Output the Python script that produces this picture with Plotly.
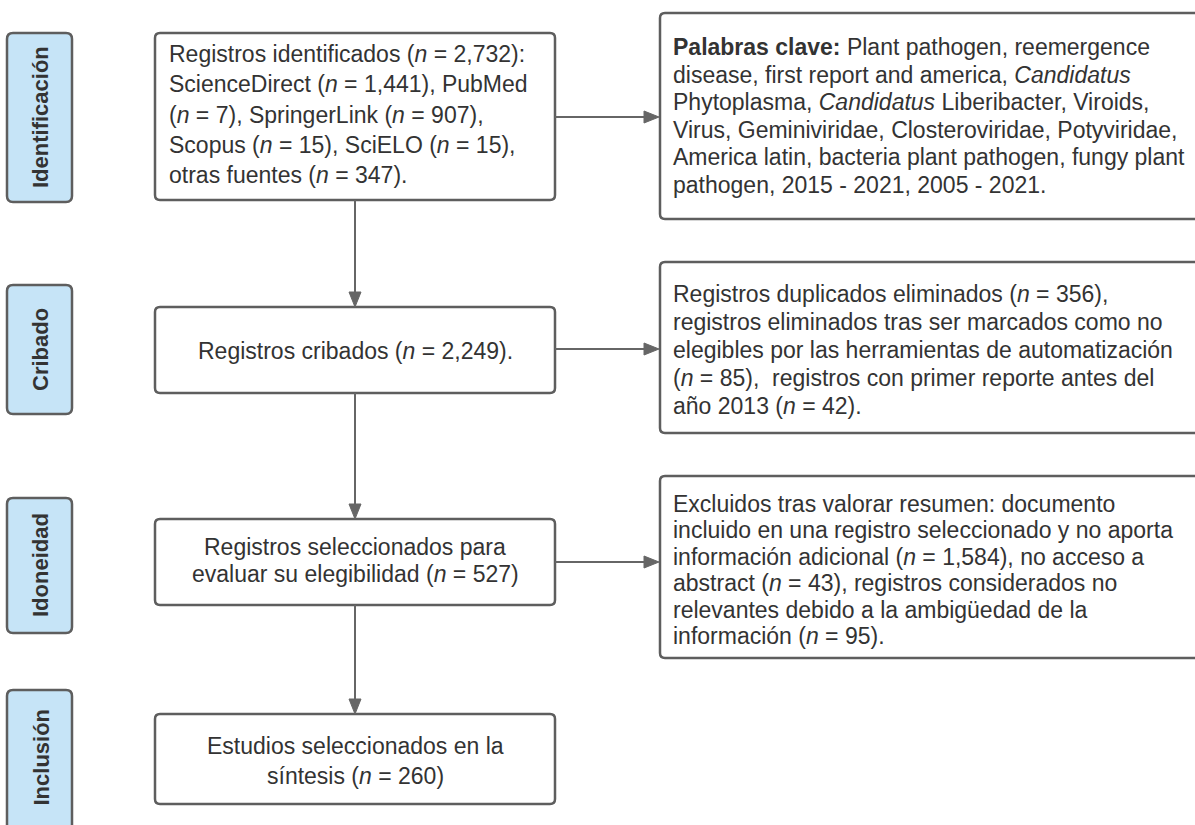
import plotly.graph_objects as go

# ---- data (texts and counts) ----
stage_labels = ["Identificación", "Cribado", "Idoneidad", "Inclusión"]
n_identified = "2,732"
source_names = ["ScienceDirect", "PubMed", "SpringerLink", "Scopus", "SciELO", "otras fuentes"]
source_counts = ["1,441", "7", "907", "15", "15", "347"]
n_screened = "2,249"
n_eligible = "527"
n_included = "260"
excl_screen_counts = ["356", "85", "42"]
excl_elig_counts = ["1,584", "43", "95"]
keywords_lines = ["Plant pathogen, reemergence",
                  "disease, first report and america, <i>Candidatus</i>",
                  "Phytoplasma, <i>Candidatus</i> Liberibacter, Viroids,",
                  "Virus, Geminiviridae, Closteroviridae, Potyviridae,",
                  "America latin, bacteria plant pathogen, fungy plant",
                  "pathogen, 2015 - 2021, 2005 - 2021."]

def nn(v):
    return "(<i>n</i> = %s)" % v

# ---- texts built from data ----
s = [f"{a} {nn(b)}" for a, b in zip(source_names, source_counts)]
lines_box1 = [f"Registros identificados {nn(n_identified)}:",
              f"{s[0]}, {source_names[1]}",
              f"{nn(source_counts[1])}, {s[2]},",
              f"{s[3]}, {s[4]},",
              f"{s[5]}."]
lines_box2 = [f"Registros cribados {nn(n_screened)}."]
lines_box3 = ["Registros seleccionados para", f"evaluar su elegibilidad {nn(n_eligible)}"]
lines_box4 = ["Estudios seleccionados en la", f"síntesis {nn(n_included)}"]
lines_r1 = ["<b>Palabras clave:</b> " + keywords_lines[0]] + keywords_lines[1:]
lines_r2 = [f"Registros duplicados eliminados {nn(excl_screen_counts[0])},",
            "registros eliminados tras ser marcados como no",
            "elegibles por las herramientas de automatización",
            f"{nn(excl_screen_counts[1])},  registros con primer reporte antes del",
            f"año 2013 {nn(excl_screen_counts[2])}."]
lines_r3 = ["Excluidos tras valorar resumen: documento",
            "incluido en una registro seleccionado y no aporta",
            f"información adicional {nn(excl_elig_counts[0])}, no acceso a",
            f"abstract {nn(excl_elig_counts[1])}, registros considerados no",
            "relevantes debido a la ambigüedad de la",
            f"información {nn(excl_elig_counts[2])}."]

# ---- layout geometry ----
W, H = 1195, 825
label_boxes = [(7, 33, 72, 202), (7, 285, 72, 414), (7, 498, 72, 633), (7, 690, 72, 836)]
center_boxes = [(155, 33, 555, 200), (155, 307, 555, 393), (155, 519, 555, 605), (155, 714, 555, 804)]
right_boxes = [(660, 13, 1205, 219), (660, 262, 1205, 433), (660, 476, 1205, 658)]

FONT = "Liberation Sans, Arial, sans-serif"
FS = 23
TXT = "#333333"
EDGE = "#5e5e5e"
LINE = "#666666"

def rrect(x0, y0, x1, y1, r=6):
    return (f"M {x0+r},{y0} L {x1-r},{y0} Q {x1},{y0} {x1},{y0+r} "
            f"L {x1},{y1-r} Q {x1},{y1} {x1-r},{y1} L {x0+r},{y1} "
            f"Q {x0},{y1} {x0},{y1-r} L {x0},{y0+r} Q {x0},{y0} {x0+r},{y0} Z")

shapes = []
annotations = []

for b in label_boxes:
    shapes.append(dict(type="path", path=rrect(*b), xref="x", yref="y",
                       fillcolor="#c6e4f7", line=dict(color=EDGE, width=2.5)))
for b in center_boxes + right_boxes:
    shapes.append(dict(type="path", path=rrect(*b, r=5), xref="x", yref="y",
                       fillcolor="white", line=dict(color=EDGE, width=2.5)))

# stage labels
for lab, b in zip(stage_labels, label_boxes):
    yc = (b[1] + b[3]) / 2
    if lab == "Inclusión":
        yc = 757
    annotations.append(dict(x=(b[0] + b[2]) / 2 + 1, y=yc, xref="x", yref="y",
                            text=f"<b>{lab}</b>", textangle=-90, showarrow=False,
                            font=dict(family=FONT, size=22, color=TXT)))

def arrow(x0, y0, x1, y1):
    L = 15
    hw = 6
    dx, dy = x1 - x0, y1 - y0
    d = (dx * dx + dy * dy) ** 0.5
    ux, uy = dx / d, dy / d
    bx, by = x1 - ux * L, y1 - uy * L
    shapes.append(dict(type="line", x0=x0, y0=y0, x1=bx, y1=by, xref="x", yref="y",
                       line=dict(color=LINE, width=2)))
    px, py = -uy, ux
    path = f"M {x1},{y1} L {bx+px*hw},{by+py*hw} L {bx-px*hw},{by-py*hw} Z"
    shapes.append(dict(type="path", path=path, xref="x", yref="y",
                       fillcolor=LINE, line=dict(color=LINE, width=1)))

xc = 355
for a, b in zip(center_boxes[:-1], center_boxes[1:]):
    arrow(xc, a[3], xc, b[1])
arrow(555, 117, 659, 117)
arrow(555, 349, 659, 349)
arrow(555, 562, 659, 562)

def text_lines(x, y0, dy, lines, center=False):
    for i, t in enumerate(lines):
        annotations.append(dict(x=x, y=y0 + i * dy, xref="x", yref="y", text=t,
                                showarrow=False, align="center" if center else "left",
                                xanchor="center" if center else "left", yanchor="middle",
                                font=dict(family=FONT, size=FS, color=TXT)))

OFF = 2
text_lines(167, 52 + OFF, 30.3, lines_box1)
text_lines(355, 349 + OFF, 0, lines_box2, center=True)
text_lines(355, 545 + OFF, 26.8, lines_box3, center=True)
text_lines(355, 744 + OFF, 30, lines_box4, center=True)
text_lines(671, 45 + OFF, 27.6, lines_r1)
text_lines(671, 292 + OFF, 27.9, lines_r2)
text_lines(671, 502 + OFF, 26.4, lines_r3)

fig = go.Figure()
fig.update_layout(
    width=W, height=H, margin=dict(l=0, r=0, t=0, b=0),
    paper_bgcolor="white", plot_bgcolor="white",
    xaxis=dict(range=[0, W], visible=False, fixedrange=True),
    yaxis=dict(range=[H, 0], visible=False, fixedrange=True),
    shapes=shapes, annotations=annotations, showlegend=False,
)
fig.write_html("out.html", config={"displayModeBar": False},
               post_script="document.body.style.margin='0';document.body.style.overflow='hidden';")
